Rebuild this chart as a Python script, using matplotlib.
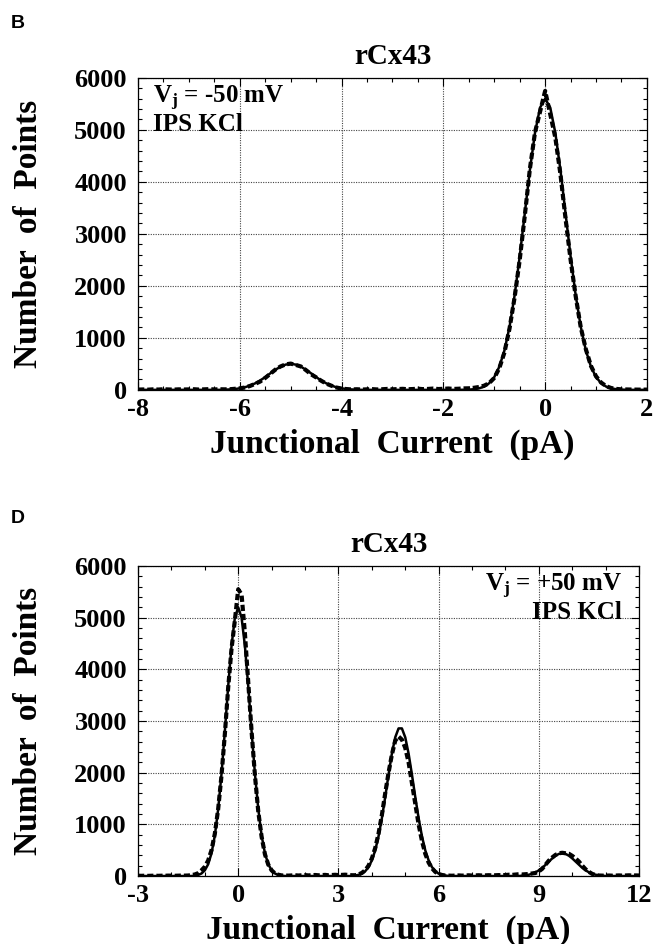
"""
Point-amplitude histograms of rCx43 junctional current at Vj = -50 mV and +50 mV,
histogram (dashed) with Gaussian fit (solid).
"""
import matplotlib
matplotlib.use("Agg")
import matplotlib.pyplot as plt
from matplotlib.ticker import MultipleLocator
import numpy as np

plt.rcParams["font.family"] = "Liberation Serif"
plt.rcParams["font.weight"] = "bold"
plt.rcParams["axes.unicode_minus"] = False
plt.rcParams["mathtext.fontset"] = "custom"
plt.rcParams["mathtext.rm"] = "Liberation Serif:bold"
plt.rcParams["mathtext.it"] = "Liberation Serif:bold"
plt.rcParams["mathtext.bf"] = "Liberation Serif:bold"

# ---- panel B: Vj = -50 mV, current sampled every 0.1 pA from -8 to 2 ----
b_current = np.round(np.arange(-80, 21) / 10, 1)
b_counts = [
    5, 8, 4, 10, 6, 12, 8, 5, 10, 7, 9, 12, 6, 10, 14, 8, 12, 10,
    12, 20, 30, 45, 75, 115, 160, 230, 310, 390, 450, 490, 505, 480, 450,
    380, 300, 240, 175, 120, 80, 45, 25, 15, 8,
    12, 6, 10, 14, 8, 12, 18, 10, 15, 20, 12, 16, 22, 14, 18, 25, 16, 20,
    26, 18, 22,
    28, 30, 40, 55, 80, 130, 230, 420, 720, 1180, 1780, 2500, 3350, 4250,
    4950, 5350, 5750, 5300, 4850, 4150, 3300, 2500, 1800, 1200, 780, 460,
    260, 140, 70, 35, 18, 10, 8, 6, 5, 4, 5,
]
b_fit = (
    [0] * 17
    + [4, 8, 16, 29, 50, 82, 125, 180, 246, 318, 387, 446, 486, 500,
       486, 446, 387, 318, 246, 180, 125, 82, 50, 29, 16, 8, 4]
    + [0] * 20
    + [2, 5, 12, 29, 62, 128, 246, 446, 758, 1211, 1818, 2564, 3397, 4228,
       4942, 5428, 5600, 5428, 4942, 4228, 3397, 2564, 1818, 1211, 758,
       446, 246, 128, 62, 29, 12, 5, 2]
    + [0] * 4
)

# ---- panel D: Vj = +50 mV, current sampled every 0.1 pA from -3 to 12 ----
d_current = np.round(np.arange(-30, 121) / 10, 1)
d_counts = [
    5, 4, 6, 3, 5, 7, 4, 6, 5, 8, 6, 5, 7, 9, 8,
    10, 18, 30, 55, 110, 180, 300, 500, 820, 1300, 1950, 2750, 3650, 4400,
    4950, 5550, 5450, 4700, 3750, 2800, 1950, 1250, 760, 420, 220, 110, 50,
    25, 12,
    10, 8, 12, 15, 10, 14, 18, 12, 16, 20, 14, 18, 22, 15, 20, 24, 18, 22,
    26, 20, 15,
    15, 30, 60, 110, 200, 340, 540, 820, 1180, 1600, 2000, 2350, 2620, 2700,
    2640, 2480, 2200, 1800, 1400, 1000, 680, 430, 260, 150, 80, 40, 20, 10,
    8, 6, 10, 12, 8, 10, 14, 9, 12, 15, 10, 13, 16, 12, 15, 18, 14, 20, 25,
    22, 28, 35, 30,
    35, 40, 50, 60, 90, 140, 220, 300, 360, 410, 440, 450, 440, 430, 390,
    340, 280, 200, 130, 80, 40, 20, 10,
    8, 6, 10, 7, 9, 12, 8, 10, 14, 9, 12, 10,
]
d_fit = (
    [0] * 17
    + [8, 20, 49, 110, 228, 440, 785, 1296, 1981, 2802, 3677, 4457, 5003,
       5200, 5003, 4457, 3677, 2802, 1981, 1296, 785, 440, 228, 110, 49, 20, 8]
    + [0] * 21
    + [10, 22, 46, 92, 172, 302, 495, 769, 1120, 1529, 1964, 2370, 2684,
       2857, 2857, 2684, 2370, 1964, 1529, 1120, 769, 495, 302, 172, 92, 46,
       22, 10]
    + [0] * 22
    + [7, 14, 25, 44, 72, 110, 158, 217, 280, 341, 393, 428, 440, 428, 393,
       341, 280, 217, 158, 110, 72, 44, 25, 14, 7]
    + [0] * 11
)


def draw_panel(ax, current, counts, fit, xlim, xmajor, xminor, note, note_x, note_ha):
    ax.plot(current, fit, color="black", lw=1.8, solid_joinstyle="round")
    ax.plot(current, counts, color="black", lw=3.0, dashes=(1.5, 0.7))

    ax.set_xlim(*xlim)
    ax.set_ylim(0, 6000)
    ax.xaxis.set_major_locator(MultipleLocator(xmajor))
    ax.xaxis.set_minor_locator(MultipleLocator(xminor))
    ax.yaxis.set_major_locator(MultipleLocator(1000))
    ax.yaxis.set_minor_locator(MultipleLocator(200))
    ax.tick_params(which="both", direction="in", top=True, right=True,
                   labelsize=19, width=0.8)
    ax.tick_params(which="major", length=6)
    ax.tick_params(which="minor", length=3)
    ax.tick_params(axis="x", which="major", pad=6)
    ax.tick_params(axis="y", which="major", pad=8)
    for lab in ax.get_xticklabels() + ax.get_yticklabels():
        lab.set_fontweight("bold")
    ax.grid(True, which="major", color="#444444", linestyle=(0, (1, 1.2)), lw=0.8)
    for sp in ax.spines.values():
        sp.set_linewidth(0.9)

    ax.set_title("rCx43", fontsize=21, fontweight="bold", pad=10)
    ax.set_xlabel("Junctional  Current  (pA)", fontsize=24, fontweight="bold")
    ax.xaxis.set_label_coords(0.5, -0.174)
    ax.xaxis.label.set_va("center")
    ax.set_ylabel("Number  of  Points", fontsize=24, fontweight="bold")
    ax.yaxis.set_label_coords(-0.184 * 0.777 / ax.get_position().width, 0.5)

    ax.text(note_x, 0.935, note, transform=ax.transAxes, fontsize=18,
            fontweight="bold", ha=note_ha, va="center")
    ax.text(note_x, 0.85, "IPS KCl", transform=ax.transAxes, fontsize=18,
            fontweight="bold", ha=note_ha, va="center")


fig = plt.figure(figsize=(6.55, 9.44), dpi=100)
ax_b = fig.add_axes([0.2107, 0.587, 0.777, 0.3305])
ax_d = fig.add_axes([0.2107, 0.072, 0.765, 0.3284])

draw_panel(ax_b, b_current, b_counts, b_fit, (-8, 2), 2, 0.5,
           r"$V_j$ = -50 mV", 0.03, "left")
draw_panel(ax_d, d_current, d_counts, d_fit, (-3, 12), 3, 1,
           r"$V_j$ = +50 mV", 0.966, "right")

fig.text(0.027, 0.975, "B", family="Liberation Sans", fontsize=14,
         fontweight="bold", ha="center", va="center")
fig.text(0.027, 0.451, "D", family="Liberation Sans", fontsize=14,
         fontweight="bold", ha="center", va="center")

fig.savefig("out.png", dpi=100)
